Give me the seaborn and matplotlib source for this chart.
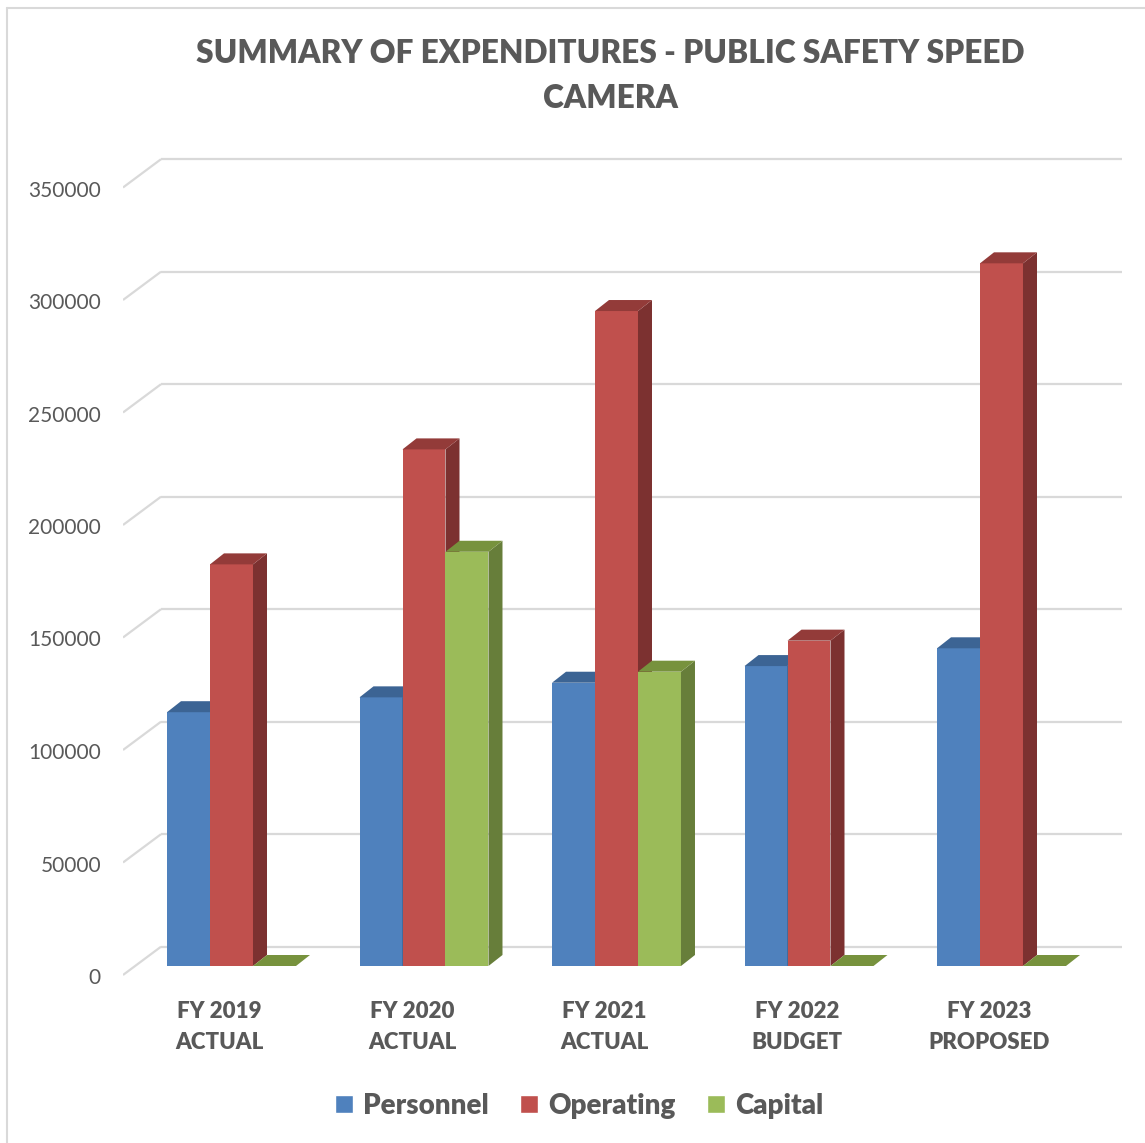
import matplotlib
matplotlib.use("Agg")
import matplotlib.pyplot as plt
from matplotlib.patches import Polygon
from matplotlib.lines import Line2D
from matplotlib.transforms import ScaledTranslation
import pandas as pd
import seaborn as sns

# ---- data -------------------------------------------------------------
categories = ["FY 2019\nACTUAL", "FY 2020\nACTUAL", "FY 2021\nACTUAL",
              "FY 2022\nBUDGET", "FY 2023\nPROPOSED"]
series_names = ["Personnel", "Operating", "Capital"]
personnel = [112800, 119400, 125900, 133300, 141200]
operating = [178500, 229600, 291100, 144600, 312300]
capital = [0, 184100, 130800, 0, 0]
y_ticks = [0, 50000, 100000, 150000, 200000, 250000, 300000, 350000]
title = "SUMMARY OF EXPENDITURES - PUBLIC SAFETY SPEED\nCAMERA"

front_colors = ["#4F81BD", "#C0504D", "#9BBB59"]
top_colors = ["#3C6494", "#933B39", "#77923D"]
side_colors = ["#34587F", "#7C3130", "#677E3A"]
text_color = "#595959"
grid_color = "#D9D9D9"
heavy = "heavy"

df = pd.DataFrame({
    "category": categories * 3,
    "series": [s for s in series_names for _ in categories],
    "value": personnel + operating + capital,
})

# ---- figure / axes ----------------------------------------------------
sns.set_style("white")
plt.rcParams["font.family"] = ["Lato", "DejaVu Sans"]

W, H = 1145, 1143
fig = plt.figure(figsize=(W / 100, H / 100), dpi=100)
ax = fig.add_axes([123 / W, 1 - 980 / H, (1122 - 123) / W, (980 - 150) / H])

sns.barplot(data=df, x="category", y="value", hue="series", order=categories,
            hue_order=series_names, palette=front_colors, width=0.67,
            saturation=1, ax=ax, errorbar=None)

# data units per pixel
XPX = 1 / 192.5
YPX = 50000 / 112.5
x0_lim = -108.5 * XPX
x1_lim = 4 + 120.5 * XPX
ax.set_xlim(x0_lim, x1_lim)
ax.set_ylim(-14 * YPX, 816 * YPX)

# depth offsets for the pseudo-3D faces
DX, DY = 14 * XPX, 11 * YPX
BACK_X = x0_lim + 38 * XPX
BACK_DY = 19.3 * YPX
FRONT_DY = -9 * YPX

for i, cont in enumerate(ax.containers):
    for bar in cont:
        bx = bar.get_x()
        bw = bar.get_width()
        bh = bar.get_height()
        bar.set_edgecolor("none")
        bar.set_zorder(2 + 2 * i)
        top = Polygon([(bx, bh), (bx + bw, bh), (bx + bw + DX, bh + DY), (bx + DX, bh + DY)],
                      closed=True, facecolor=top_colors[i], edgecolor="none", zorder=3 + 2 * i)
        side = Polygon([(bx + bw, 0), (bx + bw + DX, DY), (bx + bw + DX, bh + DY), (bx + bw, bh)],
                       closed=True, facecolor=side_colors[i], edgecolor="none", zorder=3 + 2 * i)
        ax.add_patch(side)
        ax.add_patch(top)

# back-wall gridlines with their slanted lead-ins and the value labels
for v in y_ticks:
    ax.plot([BACK_X, x1_lim], [v + BACK_DY, v + BACK_DY], color=grid_color, lw=1.6,
            zorder=0, solid_capstyle="butt")
    ax.plot([x0_lim, BACK_X], [v + FRONT_DY, v + BACK_DY], color=grid_color, lw=1.6,
            zorder=0, solid_capstyle="butt")
    ax.annotate(f"{v}", xy=(x0_lim, v + FRONT_DY), xytext=(-22, -3),
                textcoords="offset pixels", ha="right", va="center",
                fontsize=15, color=text_color)

for s in ax.spines.values():
    s.set_visible(False)
ax.set_yticks([])
ax.set_xlabel("")
ax.set_ylabel("")
ax.set_xticks(range(len(categories)))
ax.set_xticklabels(categories, fontweight=heavy, fontsize=16, color=text_color,
                   linespacing=1.6)
ax.tick_params(axis="x", length=0, pad=15)
shift = ScaledTranslation(-12 / 100, 0, fig.dpi_scale_trans)
for lbl in ax.get_xticklabels():
    lbl.set_transform(lbl.get_transform() + shift)

sns.move_legend(ax, "center", bbox_to_anchor=(579 / W, 1 - 1106 / H),
                bbox_transform=fig.transFigure, ncol=3, frameon=False, title=None,
                prop={"weight": heavy, "size": 20}, labelcolor=text_color,
                handlelength=0.64, handleheight=0.64, handletextpad=0.35,
                columnspacing=1.15)

fig.text(610 / W, 1 - 76 / H, title, ha="center", va="center", fontsize=22.8,
         fontweight=heavy, color=text_color, linespacing=1.68)

# chart frame
fig.add_artist(Line2D([7 / W, 7 / W], [0, 1 - 8 / H], color=grid_color, lw=1.5,
                      transform=fig.transFigure))
fig.add_artist(Line2D([7 / W, 1], [1 - 8 / H, 1 - 8 / H], color=grid_color, lw=1.5,
                      transform=fig.transFigure))

fig.savefig("out.png", dpi=100, facecolor="white")
